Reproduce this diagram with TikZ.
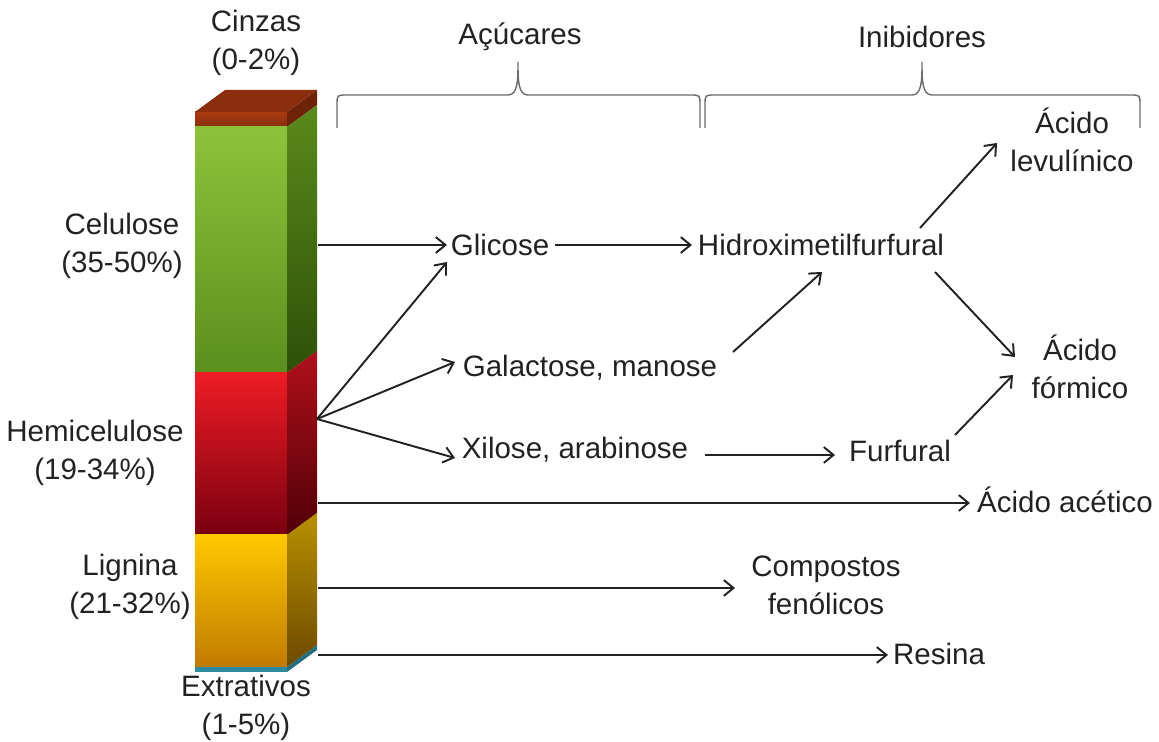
\documentclass[tikz,border=0pt]{standalone}
\usepackage{fontspec}
\setmainfont{Liberation Sans}
\usepackage{tikz}
\usetikzlibrary{arrows.meta, calc, positioning}
\definecolor{castA}{HTML}{8A2E0E}
\definecolor{castB}{HTML}{A83A10}
\definecolor{castC}{HTML}{6E220A}
\definecolor{verdeA}{HTML}{8DC33B}
\definecolor{verdeB}{HTML}{5B8F1E}
\definecolor{verdeC}{HTML}{5A8A1C}
\definecolor{verdeD}{HTML}{2E5008}
\definecolor{vermA}{HTML}{EE1C25}
\definecolor{vermB}{HTML}{7A0010}
\definecolor{vermC}{HTML}{B0101A}
\definecolor{vermD}{HTML}{500008}
\definecolor{amarA}{HTML}{FFC800}
\definecolor{amarB}{HTML}{C07A00}
\definecolor{amarC}{HTML}{B89000}
\definecolor{amarD}{HTML}{6E4A00}
\definecolor{azulExt}{HTML}{2E8A9E}
\definecolor{texto}{HTML}{222222}
\tikzset{
  >=latex,
  % textos
  rotulo/.style={font=\fontsize{16.8}{21.5}\selectfont,align=center,inner sep=2pt,text=texto},
  % setas
  seta/.style={-{Straight Barb[length=5.5pt,width=9pt]},line width=1.1pt,texto},
  % chavetas
  chave/.style={draw=gray!85!black,line width=0.8pt}
}

\begin{document}
\begin{tikzpicture}[x=0.02cm,y=-0.02cm]
  \useasboundingbox (0,0) rectangle (1159,742);
  % barra
  \shade[top color=castB,bottom color=castA] (195,112) rectangle (287,127);
  \fill[castC] (287,112) -- (317,90) -- (317,105) -- (287,127) -- cycle;
  \fill[castA] (195,112) -- (225,90) -- (317,90) -- (287,112) -- cycle;
  \shade[top color=verdeA,bottom color=verdeB] (195,127) rectangle (287,373);
  \shade[top color=verdeC,bottom color=verdeD] (287,127) -- (317,105) -- (317,351) -- (287,373) -- cycle;
  \shade[top color=vermA,bottom color=vermB] (195,373) rectangle (287,535);
  \shade[top color=vermC,bottom color=vermD] (287,373) -- (317,351) -- (317,513) -- (287,535) -- cycle;
  \shade[top color=amarA,bottom color=amarB] (195,535) rectangle (287,667);
  \shade[top color=amarC,bottom color=amarD] (287,535) -- (317,513) -- (317,645) -- (287,667) -- cycle;
  \fill[azulExt] (195,667) rectangle (287,672);
  \fill[azulExt!80!black] (287,667) -- (317,645) -- (317,650) -- (287,672) -- cycle;

  \node[rotulo] (cinzas) at (256,43) {Cinzas\\(0-2\%)};
  \node[rotulo] (celul) at (122,246) {Celulose\\(35-50\%)};
  \node[rotulo] (hemic) at (95,453) {Hemicelulose\\(19-34\%)};
  \node[rotulo] (lignin) at (130,587) {Lignina\\(21-32\%)};
  \node[rotulo] (extrat) at (246,708) {Extrativos\\(1-5\%)};

  \node[rotulo] (acucar) at (520,37) {Açúcares};
  \node[rotulo] (inibid) at (922,37) {Inibidores};
  \draw[chave] (337,128) -- (337,105) .. controls (337,95) .. (347,95) -- (508,95)
    .. controls (518,95) and (518,80) .. (518,62) .. controls (518,80) and (518,95) .. (528,95)
    -- (690,95) .. controls (700,95) .. (700,105) -- (700,128);
  \draw[chave] (705,128) -- (705,105) .. controls (705,95) .. (715,95) -- (912,95)
    .. controls (922,95) and (922,80) .. (922,62) .. controls (922,80) and (922,95) .. (932,95)
    -- (1130,95) .. controls (1140,95) .. (1140,105) -- (1140,128);

  \node[rotulo] (glic) at (500,245) {Glicose};
  \node[rotulo] (hmf) at (821,245) {Hidroximetilfurfural};
  \node[rotulo] (levul) at (1072,140) {Ácido\\levulínico};
  \node[rotulo] (galac) at (590,368) {Galactose, manose};
  \node[rotulo] (formico) at (1080,367) {Ácido\\fórmico};
  \node[rotulo] (xilo) at (575,450) {Xilose, arabinose};
  \node[rotulo] (furf) at (900,451) {Furfural};
  \node[rotulo] (acet) at (1065,500) {Ácido acético};
  \node[rotulo] (fenol) at (826,585) {Compostos\\fenólicos};
  \node[rotulo] (resina) at (939,654) {Resina};

  \coordinate (cel) at (318,245);
  \coordinate (hemi) at (317,419);
  \coordinate (hemiB) at (318,503);
  \coordinate (lig) at (318,588);
  \coordinate (ext) at (318,655);

  \draw[seta] (cel) -- ($(glic)+(-53,0)$);
  \draw[seta] ($(glic)+(55,0)$) -- ($(hmf)+(-129,0)$);
  \draw[seta] (hemi) -- ($(glic)+(-53,17)$);
  \draw[seta] (hemi) -- ($(galac)+(-135,-6)$);
  \draw[seta] (hemi) -- ($(xilo)+(-120,8)$);
  \draw[seta] ($(galac)+(143,-16)$) -- ($(hmf)+(1,27)$);
  \draw[seta] ($(xilo)+(130,5)$) -- ($(furf)+(-65,4)$);
  \draw[seta] ($(hmf)+(99,-17)$) -- ($(levul)+(-75,3)$);
  \draw[seta] ($(hmf)+(114,27)$) -- ($(formico)+(-65,-10)$);
  \draw[seta] ($(furf)+(55,-16)$) -- ($(formico)+(-67,8)$);
  \draw[seta] (hemiB) -- ($(acet)+(-95,3)$);
  \draw[seta] (lig) -- ($(fenol)+(-91,3)$);
  \draw[seta] (ext) -- ($(resina)+(-51,1)$);
\end{tikzpicture}
\end{document}
